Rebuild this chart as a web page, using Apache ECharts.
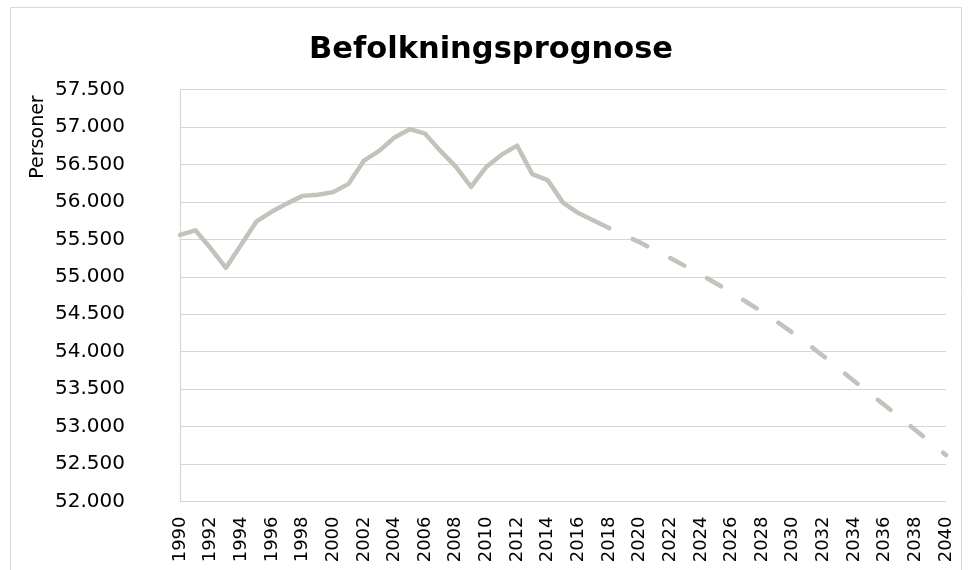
<!DOCTYPE html>
<html>
<head>
<meta charset="utf-8">
<script src="https://cdn.jsdelivr.net/npm/echarts@6/dist/echarts.min.js"></script>
<style>
html,body{margin:0;padding:0;background:#fff;}
#chart{width:968px;height:570px;}
</style>
</head>
<body>
<div id="chart"></div>
<script>
const years = [];
for (let y = 1990; y <= 2040; y++) years.push(String(y));

const historic = [55560, 55620, 55380, 55120, 55430, 55740, 55870, 55980, 56080, 56095,
  56130, 56240, 56550, 56680, 56860, 56970, 56910, 56680, 56470, 56200,
  56470, 56630, 56750, 56370, 56290, 55990, 55850, 55750, 55650];

const forecast = [55650, 55555, 55460, 55355, 55250, 55140, 55030, 54910, 54790, 54660,
  54530, 54395, 54250, 54100, 53940, 53775, 53610, 53445, 53285, 53120,
  52955, 52790, 52620];

const titleText = 'Befolkningsprognose';
const yName = 'Personer';

const histData = years.map((y, i) => i < historic.length ? historic[i] : null);
const fcStart = years.indexOf('2018');
const fcData = years.map((y, i) => i >= fcStart ? forecast[i - fcStart] : null);

function fmt(v) {
  return String(v).replace(/\B(?=(\d{3})+(?!\d))/g, '.');
}

const chart = echarts.init(document.getElementById('chart'), null, {renderer: 'canvas'});
const lineColor = '#c3c3bb';
chart.setOption({
  animation: false,
  backgroundColor: '#ffffff',
  textStyle: {fontFamily: 'DejaVu Sans'},
  title: {
    text: titleText,
    left: 486,
    top: 30,
    textAlign: 'center',
    textStyle: {fontFamily: 'DejaVu Sans', fontWeight: 'bold', fontSize: 30.5, color: '#000'}
  },
  graphic: [
    {
      type: 'rect',
      shape: {x: 10.5, y: 7.5, width: 951, height: 620},
      style: {fill: 'none', stroke: '#d9d9d9', lineWidth: 1},
      silent: true, z: -1
    },
    {
      type: 'text',
      x: 38, y: 137,
      rotation: Math.PI / 2,
      style: {text: yName, fontFamily: 'DejaVu Sans', fontSize: 19, fill: '#000',
        align: 'center', verticalAlign: 'middle'}
    }
  ],
  grid: {left: 180, right: 22, top: 89.5, bottom: 68.5, containLabel: false},
  xAxis: {
    type: 'category',
    data: years,
    boundaryGap: false,
    axisLine: {show: true, lineStyle: {color: '#d6d6d6', width: 1.2}},
    axisTick: {show: false},
    axisLabel: {interval: 1, rotate: 90, margin: 15, fontSize: 18, color: '#000', fontFamily: 'DejaVu Sans'},
    splitLine: {show: false}
  },
  yAxis: {
    type: 'value',
    min: 52000, max: 57500, interval: 500,
    axisLine: {show: true, lineStyle: {color: '#d6d6d6', width: 1.2}},
    axisTick: {show: false},
    axisLabel: {formatter: fmt, margin: 55, fontSize: 20, color: '#000', fontFamily: 'DejaVu Sans'},
    splitLine: {show: true, lineStyle: {color: '#d6d6d6', width: 1.2}}
  },
  series: [
    {
      name: 'Historisk',
      type: 'line',
      data: histData,
      showSymbol: false,
      symbol: 'none',
      connectNulls: false,
      lineStyle: {color: lineColor, width: 4.5, cap: 'round', join: 'round'},
      z: 3
    },
    {
      name: 'Prognose',
      type: 'line',
      data: fcData,
      showSymbol: false,
      symbol: 'none',
      lineStyle: {color: lineColor, width: 4.5, type: [16, 26], dashOffset: 15.75, cap: 'round', join: 'round'},
      z: 2
    }
  ]
});
</script>
</body>
</html>
